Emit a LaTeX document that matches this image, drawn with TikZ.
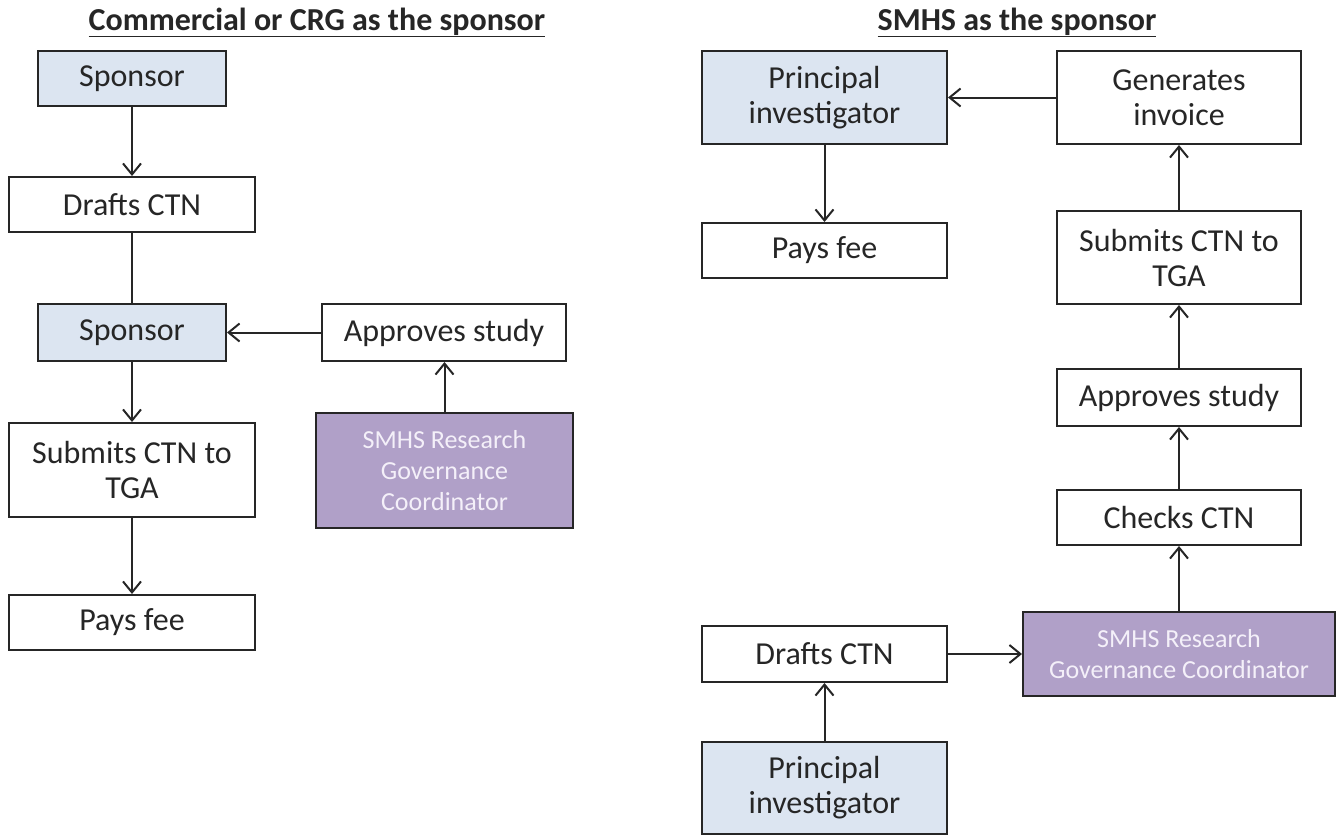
\documentclass[tikz,border=0pt]{standalone}
\usepackage{fontspec}
\setmainfont{Carlito}
\usepackage{tikz}
\usetikzlibrary{arrows.meta,positioning,calc}
\definecolor{inkgrey}{HTML}{262626}
\definecolor{actorblue}{HTML}{DCE5F1}
\definecolor{rgcpurple}{HTML}{B0A0C8}
\definecolor{rgctext}{HTML}{F4F0F9}

\begin{document}
\begin{tikzpicture}[x=1pt, y=-1pt, line width=2pt, draw=inkgrey,
    >={Straight Barb[length=11pt,width=18pt]},
    plain/.style={draw=inkgrey, fill=white, text=inkgrey, align=center,
        inner sep=0pt, font=\fontsize{32}{35}\selectfont},
    actor/.style={plain, fill=actorblue},
    rgc/.style={plain, fill=rgcpurple, text=rgctext, font=\fontsize{26}{31}\selectfont},
    heading/.style={anchor=base, text=inkgrey, font=\fontsize{32}{36}\selectfont\bfseries}]
    \useasboundingbox (0,0) rectangle (1339,835);

    % Commercial or CRG as the sponsor
    \node[heading] (titleA) at (317,30) {\underline{Commercial or CRG as the sponsor}};
    \node[actor, minimum width=188, minimum height=55] (sponA) at (132,78.5) {Sponsor};
    \node[plain, minimum width=246, minimum height=55] (draftsA) at (132,204.5) {Drafts CTN};
    \node[actor, minimum width=188, minimum height=57] (sponB) at (132,332.5) {Sponsor};
    \node[plain, minimum width=244, minimum height=57] (apprA) at (444,332.5) {Approves study};
    \node[rgc, minimum width=257, minimum height=115] (rgcA) at (444.5,470.5) {SMHS Research\\Governance\\Coordinator};
    \node[plain, minimum width=246, minimum height=94] (submA) at (132,470) {Submits CTN to\\TGA};
    \node[plain, minimum width=246, minimum height=55] (payA) at (132,622.5) {Pays fee};

    \draw[->] (sponA) -- (draftsA);
    \draw (draftsA) -- (sponB);
    \draw[->] (apprA) -- (sponB);
    \draw[->] (rgcA.north) -- (rgcA.north |- apprA.south);
    \draw[->] (sponB) -- (submA);
    \draw[->] (submA) -- (payA);

    % SMHS as the sponsor
    \node[heading] (titleB) at (1017,30) {\underline{SMHS as the sponsor}};
    \node[actor, minimum width=245, minimum height=93] (piA) at (824.5,97.5) {Principal\\investigator};
    \node[plain, minimum width=244, minimum height=93] (invo) at (1179,97.5) {Generates\\invoice};
    \node[plain, minimum width=245, minimum height=55] (payB) at (824.5,250.5) {Pays fee};
    \node[plain, minimum width=244, minimum height=93] (submB) at (1179,257.5) {Submits CTN to\\TGA};
    \node[plain, minimum width=244, minimum height=57] (apprB) at (1179,397.5) {Approves study};
    \node[plain, minimum width=244, minimum height=55] (chk) at (1179,517.5) {Checks CTN};
    \node[rgc, minimum width=312, minimum height=84] (rgcB) at (1179,654) {SMHS Research\\Governance Coordinator};
    \node[plain, minimum width=245, minimum height=56] (draftsB) at (824.5,654) {Drafts CTN};
    \node[actor, minimum width=245, minimum height=92] (piB) at (824.5,788) {Principal\\investigator};

    \draw[->] (invo) -- (piA);
    \draw[->] (piA) -- (payB);
    \draw[->] (submB) -- (invo);
    \draw[->] (apprB) -- (submB);
    \draw[->] (chk) -- (apprB);
    \draw[->] (rgcB) -- (chk);
    \draw[->] (draftsB) -- (rgcB);
    \draw[->] (piB) -- (draftsB);
\end{tikzpicture}
\end{document}
